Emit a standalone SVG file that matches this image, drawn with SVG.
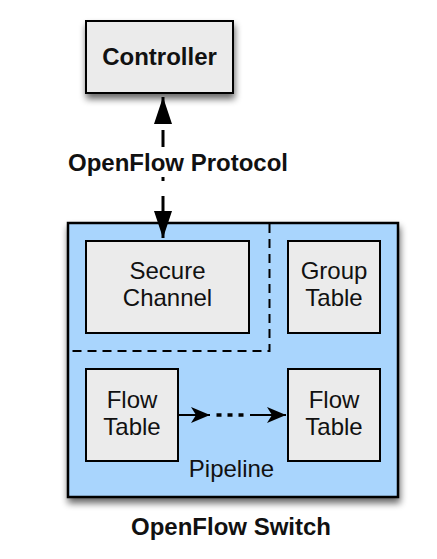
<svg xmlns="http://www.w3.org/2000/svg" width="437" height="559" viewBox="0 0 437 559">
<style>
.box{fill:#ebebeb;stroke:#000;stroke-width:2}
.bt{font-family:"Liberation Sans",Arial,sans-serif;font-size:24px;fill:#111;text-anchor:middle}
.bold{font-family:"Liberation Sans",Arial,sans-serif;font-size:24px;font-weight:bold;fill:#111;text-anchor:middle}
.conn{stroke:#000;fill:none}
</style>
<defs>
<filter id="sh" x="-20%" y="-20%" width="150%" height="150%">
<feGaussianBlur in="SourceAlpha" stdDeviation="3.5"/>
<feOffset dx="1" dy="5" result="b"/>
<feComponentTransfer><feFuncA type="linear" slope="0.6"/></feComponentTransfer>
<feMerge><feMergeNode/><feMergeNode in="SourceGraphic"/></feMerge>
</filter>
<marker id="big" markerUnits="userSpaceOnUse" markerWidth="28" markerHeight="20" viewBox="0 0 28 20" refX="27" refY="10" orient="auto">
<path d="M0,1 L27,10 L0,19 Z" fill="#000"/>
</marker>
<marker id="stl" markerUnits="userSpaceOnUse" markerWidth="20" markerHeight="18" viewBox="0 0 20 18" refX="19" refY="9" orient="auto">
<path d="M0,1 L19,9 L0,17 L5,9 Z" fill="#000"/>
</marker>
</defs>

<g id="controller">
<rect class="box" x="86" y="21" width="147" height="72" filter="url(#sh)"/>
<text class="bold" x="159.5" y="65">Controller</text>
</g>

<g id="switch">
<rect x="68" y="223" width="330" height="274" fill="#a9d5fd" stroke="#000" stroke-width="2.5" filter="url(#sh)"/>
<path d="M269.5,224 V351 H69" fill="none" stroke="#000" stroke-width="2" stroke-dasharray="9,6"/>
<text class="bold" x="231" y="535">OpenFlow Switch</text>
<text class="bt" x="231.5" y="477" font-size="19">Pipeline</text>
</g>

<g id="secure-channel">
<rect class="box" x="86" y="241" width="163" height="92"/>
<text class="bt" x="167.5" y="279">Secure</text>
<text class="bt" x="167.5" y="306">Channel</text>
</g>

<g id="group-table">
<rect class="box" x="288" y="241" width="92" height="92"/>
<text class="bt" x="334" y="279">Group</text>
<text class="bt" x="334" y="306">Table</text>
</g>

<g id="flow-table-1">
<rect class="box" x="86" y="369" width="92" height="92"/>
<text class="bt" x="132" y="408">Flow</text>
<text class="bt" x="132" y="435">Table</text>
</g>

<g id="flow-table-2">
<rect class="box" x="288" y="369" width="92" height="92"/>
<text class="bt" x="334" y="408">Flow</text>
<text class="bt" x="334" y="435">Table</text>
</g>

<g id="connectors">
<path class="conn" d="M163,120 V97" stroke-width="3" marker-end="url(#big)"/>
<path class="conn" d="M163,130 V147 M163,177 V181" stroke-width="3"/>
<path class="conn" d="M163,196 V238" stroke-width="3" marker-end="url(#big)"/>
<text class="bold" x="178" y="171">OpenFlow Protocol</text>
<line class="conn" x1="179" y1="415" x2="210" y2="415" stroke-width="2" marker-end="url(#stl)"/>
<line class="conn" x1="216.5" y1="415" x2="244" y2="415" stroke-width="3.5" stroke-dasharray="5,6"/>
<line class="conn" x1="250" y1="415" x2="286" y2="415" stroke-width="2" marker-end="url(#stl)"/>
</g>
</svg>
